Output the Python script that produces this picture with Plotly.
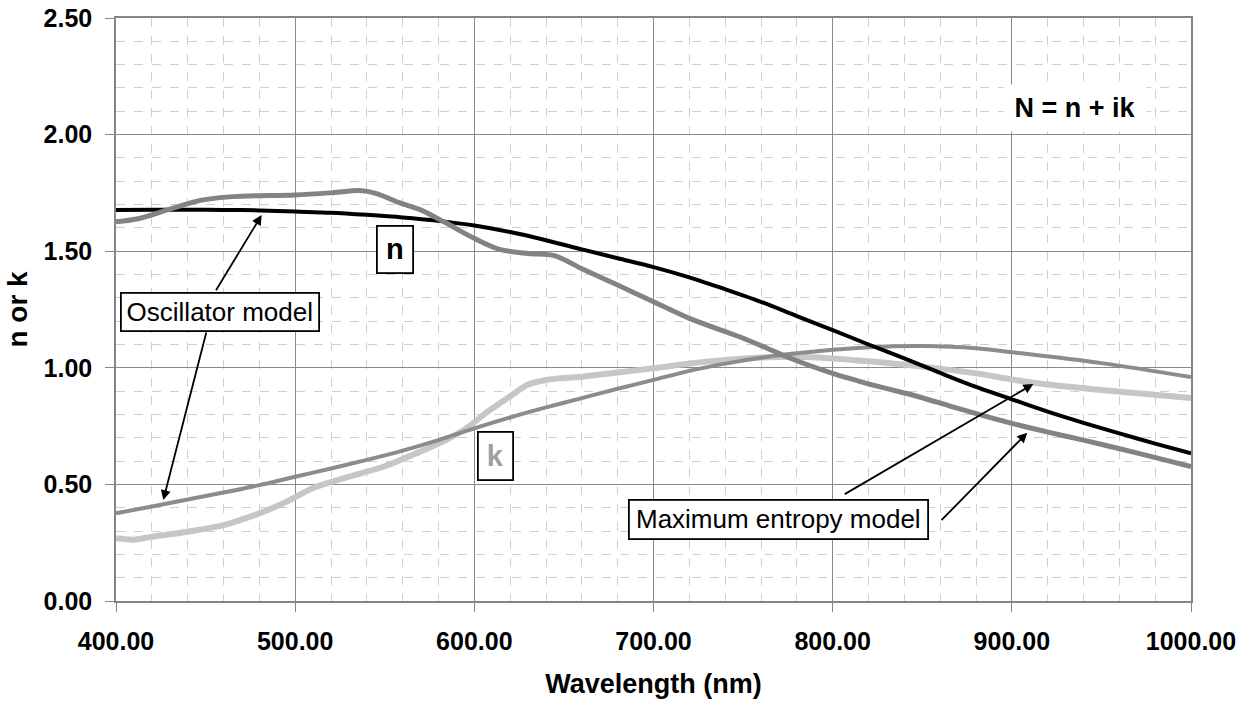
import plotly.graph_objects as go

# ---- data ----
wl_n_osc = [400, 420, 440, 460, 480, 500, 520, 540, 560, 580, 600, 620, 640, 660, 680, 700,
            720, 740, 760, 780, 800, 820, 840, 860, 880, 900, 920, 940, 960, 980, 1000]
n_osc = [1.677, 1.678, 1.678, 1.677, 1.675, 1.670, 1.665, 1.656, 1.645, 1.630, 1.610, 1.582,
         1.547, 1.508, 1.470, 1.432, 1.388, 1.337, 1.283, 1.222, 1.162, 1.100, 1.040, 0.978,
         0.918, 0.865, 0.812, 0.764, 0.719, 0.675, 0.633]

wl_n_max = [400, 413, 430, 447, 465, 500, 521, 536, 545, 558, 570, 583, 600, 614, 630, 645,
            660, 680, 700, 720, 748, 767, 776, 800, 815, 828, 847, 866, 885, 900, 922, 940,
            959, 978, 1000]
n_max = [1.626, 1.640, 1.680, 1.718, 1.734, 1.741, 1.751, 1.760, 1.748, 1.708, 1.677, 1.626,
         1.555, 1.508, 1.490, 1.480, 1.425, 1.355, 1.283, 1.212, 1.133, 1.072, 1.042, 0.976,
         0.942, 0.915, 0.878, 0.835, 0.793, 0.762, 0.721, 0.690, 0.655, 0.619, 0.576]

wl_k_osc = [400, 420, 440, 460, 480, 500, 520, 540, 560, 580, 600, 620, 640, 660, 680, 700,
            720, 740, 760, 780, 800, 820, 850, 880, 900, 950, 1000]
k_osc = [0.376, 0.405, 0.435, 0.465, 0.497, 0.533, 0.568, 0.605, 0.645, 0.690, 0.740, 0.787,
         0.830, 0.870, 0.910, 0.948, 0.987, 1.018, 1.043, 1.062, 1.077, 1.088, 1.093, 1.084,
         1.067, 1.020, 0.960]

wl_k_max = [400, 410, 420, 440, 460, 480, 495, 510, 530, 550, 565, 580, 595, 608, 620, 630,
            640, 660, 680, 700, 720, 740, 760, 780, 800, 820, 850, 880, 900, 920, 950, 1000]
k_max = [0.269, 0.263, 0.275, 0.297, 0.325, 0.376, 0.425, 0.485, 0.533, 0.578, 0.625, 0.675,
         0.738, 0.815, 0.878, 0.928, 0.948, 0.962, 0.980, 0.998, 1.018, 1.034, 1.044, 1.047,
         1.040, 1.028, 1.005, 0.976, 0.950, 0.928, 0.905, 0.870]

x_ticks = [400, 500, 600, 700, 800, 900, 1000]
y_ticks = [0.0, 0.5, 1.0, 1.5, 2.0, 2.5]

FONT = "Liberation Sans, Arial, sans-serif"

fig = go.Figure()
fig.add_trace(go.Scatter(x=wl_k_max, y=k_max, mode="lines", name="k (maximum entropy)",
                         line=dict(color="#c6c6c6", width=6, shape="spline", smoothing=0.9)))
fig.add_trace(go.Scatter(x=wl_k_osc, y=k_osc, mode="lines", name="k (oscillator)",
                         line=dict(color="#8c8c8c", width=4, shape="spline", smoothing=0.9)))
fig.add_trace(go.Scatter(x=wl_n_osc, y=n_osc, mode="lines", name="n (oscillator)",
                         line=dict(color="#000000", width=4, shape="spline", smoothing=0.9)))
fig.add_trace(go.Scatter(x=wl_n_max, y=n_max, mode="lines", name="n (maximum entropy)",
                         line=dict(color="#838383", width=5, shape="spline", smoothing=0.9)))

axis_common = dict(
    showline=True, mirror=True, linecolor="#858585", linewidth=1.5,
    showgrid=True, gridcolor="#8a8a8a", gridwidth=1.3,
    ticks="outside", ticklen=9, tickcolor="#858585", tickwidth=1.3,
    tickfont=dict(family=FONT, size=25, color="#000000", weight="bold"),
    zeroline=False, automargin=False,
)

fig.update_xaxes(range=[400, 1000], tickvals=x_ticks, tickformat=".2f",
                 minor=dict(dtick=20, showgrid=True, gridcolor="#cfcfcf", griddash="dash",
                            gridwidth=1),
                 title=dict(text="Wavelength (nm)", standoff=20,
                            font=dict(family=FONT, size=27, color="#000000", weight="bold")),
                 ticklabelstandoff=8,
                 **axis_common)
fig.update_yaxes(range=[0, 2.5], tickvals=y_ticks, tickformat=".2f",
                 minor=dict(dtick=0.1, showgrid=True, gridcolor="#cfcfcf", griddash="dash",
                            gridwidth=1),
                 title=dict(text="n or k", standoff=8,
                            font=dict(family=FONT, size=28, color="#000000", weight="bold")),
                 ticklabelstandoff=8,
                 **axis_common)

annotations = []
# label boxes
box = dict(xref="x", yref="y", showarrow=False, bgcolor="#ffffff",
           bordercolor="#000000", borderwidth=1.8, borderpad=1)
annotations.append(dict(x=458.2, y=1.2406, text="Oscillator model", width=194, height=34,
                        font=dict(family=FONT, size=26, color="#000000"), **box))
annotations.append(dict(x=769.9, y=0.3495, text="Maximum entropy model", width=295, height=35,
                        font=dict(family=FONT, size=26, color="#000000"), **box))
annotations.append(dict(x=555.9, y=1.509, text="<b>n</b>", width=32, height=43,
                        font=dict(family=FONT, size=29, color="#000000"), **box))
annotations.append(dict(x=612.0, y=0.621, text="<b>k</b>", width=31, height=44,
                        font=dict(family=FONT, size=29, color="#a0a0a0"), **box))
annotations.append(dict(x=935.3, y=2.114, xref="x", yref="y", showarrow=False,
                        text="<b>N = n + ik</b>", bgcolor="#ffffff", width=140, height=44,
                        font=dict(family=FONT, size=27, color="#000000")))

# arrows (tail -> head)
arrows = [
    ((455.3, 1.326), (481.3, 1.655)),
    ((450.6, 1.158), (426.4, 0.433)),
    ((805.9, 0.4545), (912.0, 0.9305)),
    ((859.9, 0.340), (908.6, 0.7217)),
]
for (tx, ty), (hx, hy) in arrows:
    annotations.append(dict(x=hx, y=hy, ax=tx, ay=ty, xref="x", yref="y",
                            axref="x", ayref="y", text="", showarrow=True,
                            arrowhead=2, arrowsize=1.1, arrowwidth=1.8,
                            arrowcolor="#000000", standoff=0, startstandoff=0))

fig.update_layout(
    width=1254, height=706,
    margin=dict(l=116, r=63, t=18, b=105, autoexpand=False),
    paper_bgcolor="#ffffff", plot_bgcolor="#ffffff",
    showlegend=False,
    annotations=annotations,
    font=dict(family=FONT),
)

fig.write_html("out.html")
